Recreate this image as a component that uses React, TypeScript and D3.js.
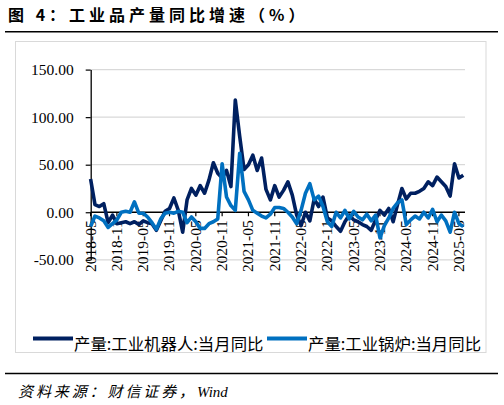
// 图4：工业品产量同比增速 — robots vs boilers, monthly yoy

import { useEffect, useRef } from 'react';
import * as d3 from 'd3';

// monthly categories 2018-05 .. 2025-06
const months = d3.timeMonth.range(new Date(2018, 4, 1), new Date(2025, 6, 1));

const xTickLabels = [
  '2018-05', '2018-11', '2019-05', '2019-11', '2020-05', '2020-11', '2021-05', '2021-11',
  '2022-05', '2022-11', '2023-05', '2023-11', '2024-05', '2024-11', '2025-05',
];

const yTicks = [-50, 0, 50, 100, 150];

// 产量:工业机器人:当月同比
const robotYoY = [
  35, 8, 6, 9, -11, -3, -12, -11, -10, -12, -10, -13, -9, -11, -12, -19, -9, 1, 4, 15,
  2, -21, 13, 25, 18, 28, 20, 34, 52, 41, 36, 44, 27, 118, 80, 45, 50, 60, 44, 57,
  24, 13, 28, 16, 23, 32, 18, -3, -14, 0, -9, 14, 6, 16, -6, -9, -15, -20, -10, -3,
  -8, -10, -13, -15, -19, -8, 2, -3, 4, -10, 8, 25, 14, 20, 20, 22, 25, 32, 28, 37,
  32, 27, 17, 51, 36, 39,
];

// 产量:工业锅炉:当月同比
const boilerYoY = [
  -15, -4, -6, -9, -16, -12, -8, 0, 1, 0, 11, -1, -1, -5, -11, -18, -7, -1, 0, -1,
  1, 0, -11, -5, -10, -17, -17, -12, -10, -7, 51, 16, 7, 2, 62, 22, 13, 2, -1, -4,
  -6, -2, 5, 5, 4, 0, -5, -12, 2, 20, 30, 13, 17, 6, -10, -15, 0, -6, 2, -7,
  1, -5, -8, -2, -9, -3, -27, -14, -6, 4, 10, 13, -13, -8, -4, -7, 0, -6, 3, -10,
  -3, -9, -21, 0, -12, -15,
];

const seriesNames = ['产量:工业机器人:当月同比', '产量:工业锅炉:当月同比'];
const seriesColors = ['#002060', '#0070C0'];

const cjk = '"Noto Sans CJK SC", sans-serif';
const serif = '"Liberation Serif", "Times New Roman", serif';

const App = () => {
  const svgRef = useRef<SVGSVGElement | null>(null);

  useEffect(() => {
    if (!svgRef.current) return;
    const svg = d3.select(svgRef.current);
    svg.selectAll('*').remove();

    const width = 504;
    const height = 405;
    const plot = { left: 90.7, right: 465, top: 69.6, bottom: 259.8 };

    const x = d3.scaleLinear().domain([0, months.length - 1]).range([90.6, 463.3]);
    const y = d3.scaleLinear().domain([-50, 150]).range([plot.bottom, plot.top]);
    const fmt = d3.timeFormat('%Y-%m');

    svg.append('rect').attr('width', width).attr('height', height).attr('fill', '#fff');

    // title
    svg.append('text')
      .attr('x', 8).attr('y', 21)
      .attr('font-family', cjk).attr('font-size', 16).attr('font-weight', 'bold')
      .attr('letter-spacing', 4)
      .text('图 4：工业品产量同比增速（%）');

    svg.append('line')
      .attr('x1', 5).attr('x2', 498).attr('y1', 31.8).attr('y2', 31.8)
      .attr('stroke', '#000').attr('stroke-width', 1.5);

    // chart frame
    svg.append('rect')
      .attr('x', 15.5).attr('y', 41.5).attr('width', 470.5).attr('height', 311)
      .attr('fill', '#fff').attr('stroke', '#D9D9D9').attr('stroke-width', 1);

    // gridlines
    svg.append('g')
      .selectAll('line')
      .data(yTicks.filter(d => d !== 0))
      .join('line')
      .attr('x1', plot.left).attr('x2', plot.right)
      .attr('y1', d => y(d)).attr('y2', d => y(d))
      .attr('stroke', '#D9D9D9').attr('stroke-width', 1.2);

    // y axis
    const yAxis = d3.axisLeft(y)
      .tickValues(yTicks)
      .tickFormat(d => (d as number).toFixed(2))
      .tickSize(5)
      .tickSizeOuter(0)
      .tickPadding(12);

    const gy = svg.append('g')
      .attr('transform', `translate(${plot.left},0)`)
      .call(yAxis);
    gy.select('.domain').attr('stroke', '#000').attr('stroke-width', 1.3);
    gy.selectAll('.tick line').attr('stroke', '#000').attr('stroke-width', 1.2);
    gy.selectAll('.tick text')
      .attr('font-family', serif).attr('font-size', 15.5).attr('fill', '#000');

    // x axis on the zero line
    const y0 = y(0);
    svg.append('line')
      .attr('x1', plot.left).attr('x2', plot.right).attr('y1', y0).attr('y2', y0)
      .attr('stroke', '#000').attr('stroke-width', 1.3);

    const tickIdx = xTickLabels.map(l => months.findIndex(m => fmt(m) === l));

    svg.append('g')
      .selectAll('line')
      .data(tickIdx)
      .join('line')
      .attr('x1', d => x(d)).attr('x2', d => x(d))
      .attr('y1', y0).attr('y2', y0 + 4)
      .attr('stroke', '#000').attr('stroke-width', 1.2);

    svg.append('g')
      .selectAll('text')
      .data(tickIdx)
      .join('text')
      .attr('transform', d => `translate(${x(d) - 0.5},${y0 + 8}) rotate(-90)`)
      .attr('text-anchor', 'end')
      .attr('dy', '0.35em')
      .attr('font-family', serif).attr('font-size', 15.5)
      .text(d => fmt(months[d]));

    // lines
    const line = d3.line<number>()
      .x((_, i) => x(i))
      .y(d => y(d));

    [robotYoY, boilerYoY].forEach((values, k) => {
      svg.append('path')
        .datum(values)
        .attr('d', line)
        .attr('fill', 'none')
        .attr('stroke', seriesColors[k])
        .attr('stroke-width', 3.6)
        .attr('stroke-linejoin', 'round');
    });

    // legend
    const legendPos = [{ x: 33, tx: 74 }, { x: 267, tx: 308 }];
    const legend = svg.append('g')
      .selectAll('g')
      .data(seriesNames)
      .join('g');

    legend.append('line')
      .attr('x1', (_, i) => legendPos[i].x).attr('x2', (_, i) => legendPos[i].x + 40)
      .attr('y1', 338.5).attr('y2', 338.5)
      .attr('stroke', (_, i) => seriesColors[i]).attr('stroke-width', 4);

    legend.append('text')
      .attr('x', (_, i) => legendPos[i].tx)
      .attr('y', 343)
      .attr('dominant-baseline', 'central')
      .attr('font-family', cjk).attr('font-size', 16.4)
      .text(d => d);

    // source
    svg.append('line')
      .attr('x1', 5).attr('x2', 498).attr('y1', 373.5).attr('y2', 373.5)
      .attr('stroke', '#000').attr('stroke-width', 1.5);

    const src = svg.append('text')
      .attr('x', 18).attr('y', 397)
      .attr('font-family', cjk).attr('font-size', 15).attr('font-style', 'italic')
      .attr('letter-spacing', 2.9);
    src.append('tspan').text('资料来源：财信证券，');
    src.append('tspan').attr('font-family', serif).attr('letter-spacing', 0).text('Wind');
  }, []);

  return (
    <svg
      ref={svgRef}
      width="504"
      height="405"
      style={{ position: 'absolute', left: 0, top: 0, display: 'block' }}
    ></svg>
  );
};

export default App;
